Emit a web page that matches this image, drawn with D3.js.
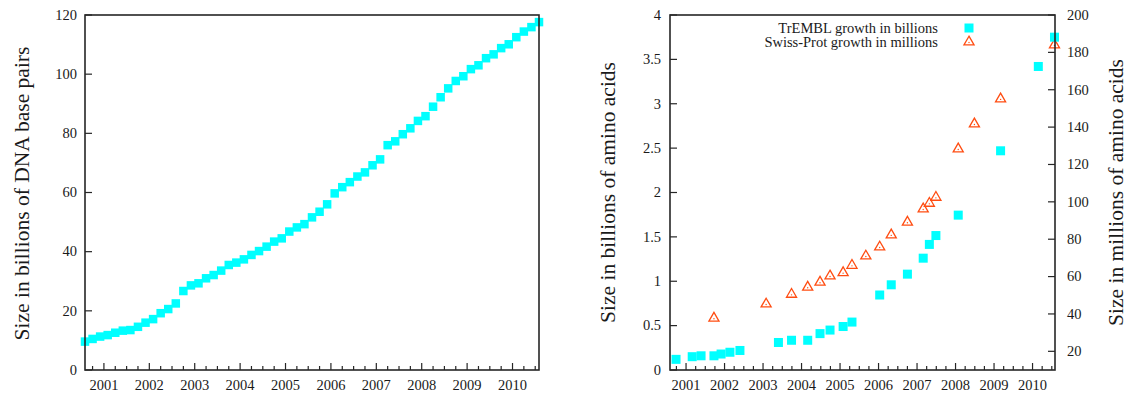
<!DOCTYPE html>
<html><head><meta charset="utf-8">
<script src="https://cdn.jsdelivr.net/npm/d3@7"></script>
<style>
html,body{margin:0;padding:0;background:#fff;}
svg{display:block;}
text{font-family:"Liberation Serif","Times New Roman",serif;fill:#1a1a1a;}
</style></head>
<body>
<svg id="c" width="1133" height="393"></svg>
<script>
// ---------- DATA ----------
// GenBank releases (bi-monthly), size in billions of DNA base pairs
const genbankMonths = ["2000-08","2000-10","2000-12","2001-02","2001-04","2001-06","2001-08","2001-10","2001-12",
 "2002-02","2002-04","2002-06","2002-08","2002-10","2002-12","2003-02","2003-04","2003-06","2003-08","2003-10","2003-12",
 "2004-02","2004-04","2004-06","2004-08","2004-10","2004-12","2005-02","2005-04","2005-06","2005-08","2005-10","2005-12",
 "2006-02","2006-04","2006-06","2006-08","2006-10","2006-12","2007-02","2007-04","2007-06","2007-08","2007-10","2007-12",
 "2008-02","2008-04","2008-06","2008-08","2008-10","2008-12","2009-02","2009-04","2009-06","2009-08","2009-10","2009-12",
 "2010-02","2010-04","2010-06","2010-08"];
const genbankSize = [9.6,10.5,11.3,11.8,12.6,13.3,13.5,14.6,16.0,17.2,19.2,20.6,22.5,26.7,28.6,29.3,31.0,32.1,33.6,35.5,36.3,
 37.4,38.9,40.2,41.7,43.4,44.5,46.8,48.2,49.3,51.6,53.5,56.0,59.7,61.8,63.5,65.4,66.8,69.2,71.2,76.0,77.3,79.7,81.7,84.2,
 85.8,89.0,92.2,95.2,97.7,99.3,101.7,103.0,105.4,106.7,108.8,110.1,112.5,114.4,115.9,117.6];

// TrEMBL releases (decimal years), size in billions of amino acids
const tremblYears = [2000.74,2001.16,2001.39,2001.725,2001.91,2002.14,2002.40,2003.40,2003.74,2004.16,2004.48,2004.74,
 2005.08,2005.31,2006.03,2006.33,2006.75,2007.16,2007.32,2007.49,2008.07,2009.17,2010.15,2010.57];
const tremblSize = [0.12,0.15,0.16,0.16,0.18,0.20,0.22,0.31,0.335,0.335,0.41,0.45,0.49,0.54,0.845,0.96,1.08,1.26,1.415,1.515,
 1.745,2.47,3.42,3.75];

// Swiss-Prot releases (decimal years), size in millions of amino acids
const swissYears = [2001.725,2003.08,2003.74,2004.16,2004.48,2004.74,2005.08,2005.31,2005.67,2006.03,2006.33,2006.75,
 2007.16,2007.32,2007.49,2008.07,2008.49,2009.17,2010.57];
const swissSize = [37.7,45.3,50.5,54.3,57.0,60.3,62.1,66.0,71.0,75.8,82.3,89.1,96.2,99.2,102.4,128.3,141.7,155.1,184.0];

const yearTicks = [2001,2002,2003,2004,2005,2006,2007,2008,2009,2010];
const leftYTicks = [0,20,40,60,80,100,120];
const protYTicks = [0,0.5,1,1.5,2,2.5,3,3.5,4];
const protY2Ticks = [20,40,60,80,100,120,140,160,180,200];
const legendLabels = ["TrEMBL growth in billions","Swiss-Prot growth in millions"];

// ---------- DRAW ----------
const svg = d3.select("#c");
const CYAN = "#00ffff", ORANGE = "#ff4d12", FRAME = "#262626";
const monthToYear = s => { const [y,m] = s.split("-").map(Number); return y + (m-1)/12; };
const gbYears = genbankMonths.map(monthToYear);
const xDomain = [monthToYear("2000-08"), monthToYear("2010-08")];
const minorTicks = d3.range(2000.75, 2010.6, 0.25).filter(v => Math.abs(v - Math.round(v)) > 1e-6);

function frame(g, x0, y0, x1, y1){
  g.append("rect").attr("x",x0).attr("y",y0).attr("width",x1-x0).attr("height",y1-y0)
   .attr("fill","none").attr("stroke",FRAME).attr("stroke-width",1.6);
}
function xAxisTicks(g, x, yb){
  g.selectAll(null).data(minorTicks).enter().append("line")
   .attr("x1",d=>x(d)).attr("x2",d=>x(d)).attr("y1",yb).attr("y2",yb-4)
   .attr("stroke",FRAME).attr("stroke-width",1.2);
  g.selectAll(null).data(yearTicks).enter().append("line")
   .attr("x1",d=>x(d)).attr("x2",d=>x(d)).attr("y1",yb).attr("y2",yb-7)
   .attr("stroke",FRAME).attr("stroke-width",1.2);
  g.selectAll(null).data(yearTicks).enter().append("text")
   .attr("x",d=>x(d)).attr("y",yb+20).attr("text-anchor","middle").attr("font-size",14.5).text(d=>d);
}
function yTicks(g, y, ticks, xAxis, dir, labelX, anchor, fmt){
  g.selectAll(null).data(ticks).enter().append("line")
   .attr("x1",xAxis).attr("x2",xAxis+dir*7).attr("y1",d=>y(d)).attr("y2",d=>y(d))
   .attr("stroke",FRAME).attr("stroke-width",1.2);
  g.selectAll(null).data(ticks).enter().append("text")
   .attr("x",labelX).attr("y",d=>y(d)).attr("dy","0.33em").attr("text-anchor",anchor)
   .attr("font-size",14.5).text(fmt);
}
function squares(g, pts, size){
  g.selectAll(null).data(pts).enter().append("rect")
   .attr("x",d=>d[0]-size/2).attr("y",d=>d[1]-size/2).attr("width",size).attr("height",size)
   .attr("fill",CYAN);
}
function triangles(g, pts){
  const sym = d3.symbol().type(d3.symbolTriangle).size(44);
  g.selectAll(null).data(pts).enter().append("path")
   .attr("transform",d=>`translate(${d[0]},${d[1]})`).attr("d",sym)
   .attr("fill","none").attr("stroke",ORANGE).attr("stroke-width",1.3);
  g.selectAll(null).data(pts).enter().append("circle")
   .attr("cx",d=>d[0]).attr("cy",d=>d[1]+0.5).attr("r",0.7).attr("fill",ORANGE);
}

// ----- Left chart -----
{
  const L = {x0:85, x1:539, y0:15, y1:370};
  const x = d3.scaleLinear().domain(xDomain).range([L.x0, L.x1]);
  const y = d3.scaleLinear().domain([0,120]).range([L.y1, L.y0]);
  const g = svg.append("g");
  xAxisTicks(g, x, L.y1);
  yTicks(g, y, leftYTicks, L.x0, 1, L.x0-8, "end", d=>d);
  squares(g, gbYears.map((t,i)=>[x(t), y(genbankSize[i])]), 8.5);
  frame(g, L.x0, L.y0, L.x1, L.y1);
  g.append("text").attr("transform",`translate(29,${(L.y0+L.y1)/2+1}) rotate(-90)`)
   .attr("text-anchor","middle").attr("font-size",21.5).text("Size in billions of DNA base pairs");
}

// ----- Right chart -----
{
  const R = {x0:670, x1:1055, y0:15, y1:370};
  const x = d3.scaleLinear().domain(xDomain).range([R.x0, R.x1]);
  const y = d3.scaleLinear().domain([0,4]).range([R.y1, R.y0]);
  const y2 = d3.scaleLinear().domain([10,200]).range([R.y1, R.y0]);
  const g = svg.append("g");
  xAxisTicks(g, x, R.y1);
  yTicks(g, y, protYTicks, R.x0, 1, R.x0-9, "end", d=>d);
  yTicks(g, y2, protY2Ticks, R.x1, -1, R.x1+12, "start", d=>d);
  triangles(g, swissYears.map((t,i)=>[x(t), y2(swissSize[i])]));
  squares(g, tremblYears.map((t,i)=>[x(t), y(tremblSize[i])]), 9);
  frame(g, R.x0, R.y0, R.x1, R.y1);
  g.append("text").attr("transform",`translate(615,${(R.y0+R.y1)/2}) rotate(-90)`)
   .attr("text-anchor","middle").attr("font-size",21.5).text("Size in billions of amino acids");
  g.append("text").attr("transform",`translate(1123,${(R.y0+R.y1)/2}) rotate(-90)`)
   .attr("text-anchor","middle").attr("font-size",21.5).text("Size in millions of amino acids");
  // legend
  const lg = g.append("g");
  lg.selectAll(null).data(legendLabels).enter().append("text")
   .attr("x",938).attr("y",(d,i)=>28+i*14).attr("dy","0.33em").attr("text-anchor","end")
   .attr("font-size",14.5).text(d=>d);
  squares(lg, [[969,28]], 9);
  triangles(lg, [[969,42]]);
}
</script>
</body></html>
